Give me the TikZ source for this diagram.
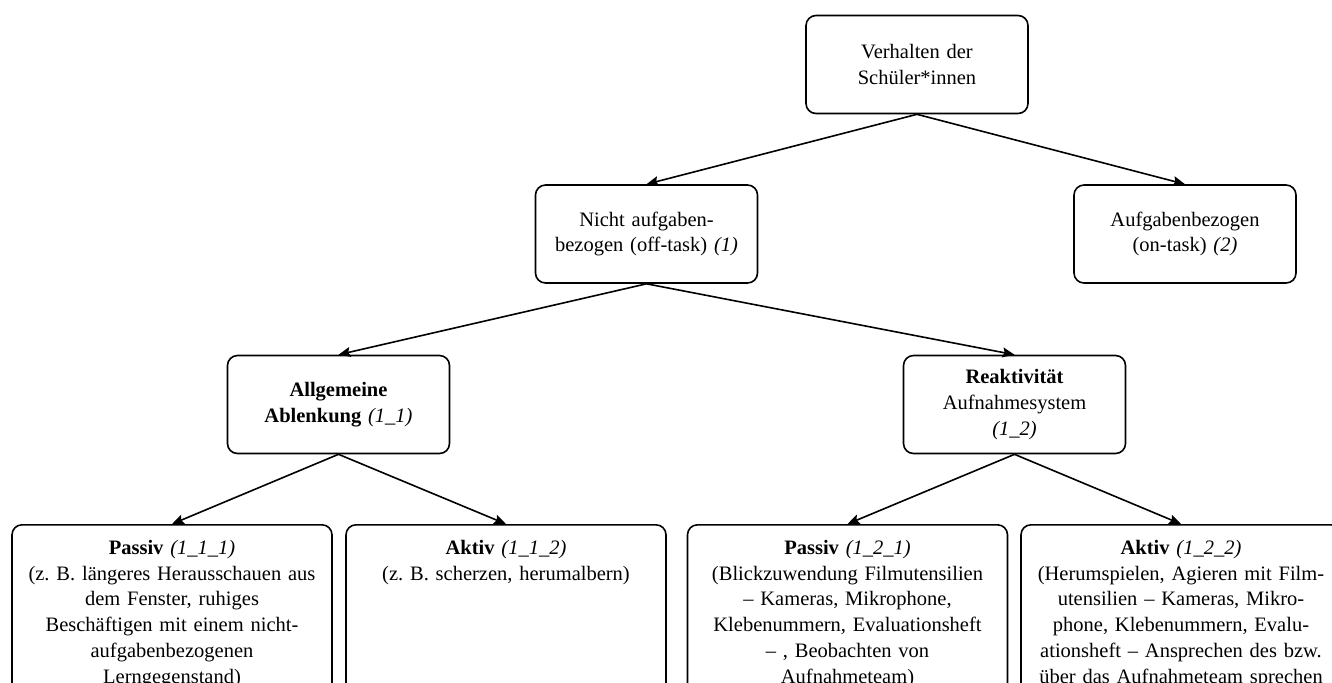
\documentclass[tikz,border=0pt]{standalone}
\usepackage{fontspec}
\setmainfont{Liberation Serif}
\usetikzlibrary{arrows.meta}
\frenchspacing
\begin{document}
\begin{tikzpicture}[x=.5pt,y=-.5pt,>={Stealth[length=6pt,width=5pt,inset=1pt]},
 box/.style={draw,line width=.8pt,rounded corners=5pt,align=center,text width=104pt,
  minimum width=111pt,minimum height=49pt,font=\fontsize{10.25}{12.9}\selectfont},
 leaf/.style={box,anchor=north,text width=153pt,minimum width=160pt,minimum height=0pt,
  inner ysep=7.6pt,text depth=110pt}]
 \useasboundingbox (0,0) rectangle (1332,682);
 \clip (0,0) rectangle (1332,682);
 \node[box] (top) at (917,64.5) {Verhalten der\\ Schüler*innen};
 \node[box] (off) at (646.5,234) {Nicht aufgaben-\\ bezogen (off-task) \textit{(1)}};
 \node[box] (on) at (1185,234) {Aufgabenbezogen\\ (on-task) \textit{(2)}};
 \node[box] (allg) at (338.5,404.5) {\textbf{Allgemeine}\\ \textbf{Ablenkung} \textit{(1\_1)}};
 \node[box] (reak) at (1014.5,404.5) {\textbf{Reaktivität}\\ Aufnahmesystem\\ \textit{(1\_2)}};
 \node[leaf] (pass1) at (172,524) {\textbf{Passiv} \textit{(1\_1\_1)}\\ (z. B. längeres Herausschauen aus\\ dem Fenster, ruhiges\\ Beschäftigen mit einem nicht-\\ aufgabenbezogenen\\ Lerngegenstand)};
 \node[leaf] (akt1) at (506,524) {\textbf{Aktiv} \textit{(1\_1\_2)}\\ (z. B. scherzen, herumalbern)};
 \node[leaf] (pass2) at (847.5,524) {\textbf{Passiv} \textit{(1\_2\_1)}\\ (Blickzuwendung Filmutensilien\\ – Kameras, Mikrophone,\\ Klebenummern, Evaluationsheft\\ – , Beobachten von\\ Aufnahmeteam)};
 \node[leaf] (akt2) at (1181,524) {\textbf{Aktiv} \textit{(1\_2\_2)}\\ (Herumspielen, Agieren mit Film-\\ utensilien – Kameras, Mikro-\\ phone, Klebenummern, Evalu-\\ ationsheft – Ansprechen des bzw.\\ über das Aufnahmeteam sprechen};
 \draw[->,line width=.8pt] (top.south)--(off.north);
 \draw[->,line width=.8pt] (top.south)--(on.north);
 \draw[->,line width=.8pt] (off.south)--(allg.north);
 \draw[->,line width=.8pt] (off.south)--(reak.north);
 \draw[->,line width=.8pt] (allg.south)--(pass1.north);
 \draw[->,line width=.8pt] (allg.south)--(akt1.north);
 \draw[->,line width=.8pt] (reak.south)--(pass2.north);
 \draw[->,line width=.8pt] (reak.south)--(akt2.north);
\end{tikzpicture}
\end{document}
